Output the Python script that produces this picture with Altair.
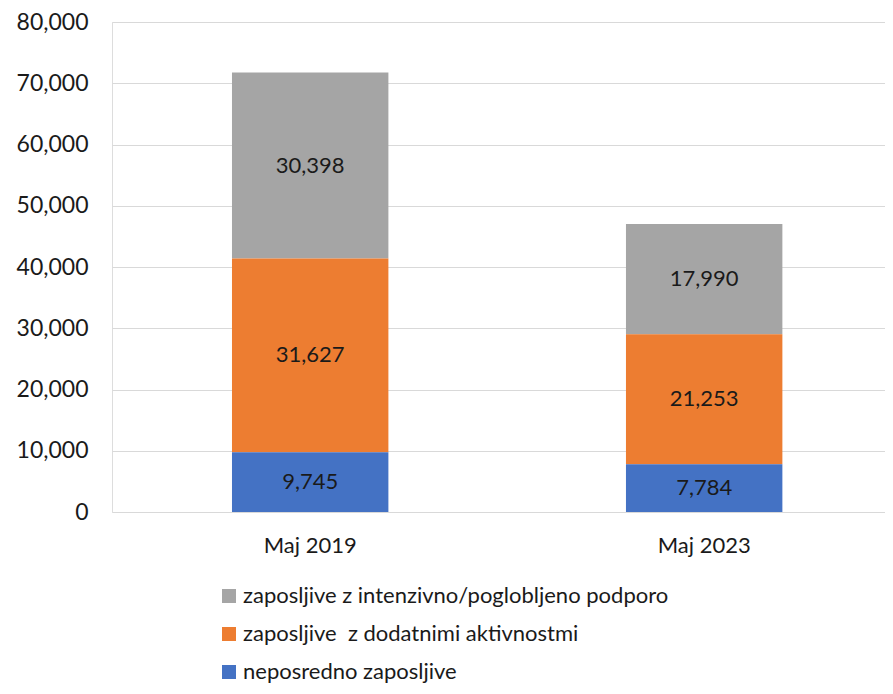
import altair as alt
import pandas as pd

periods = ["Maj 2019", "Maj 2023"]
categories = [
    "zaposljive z intenzivno/poglobljeno podporo",
    "zaposljive\u00a0 z dodatnimi aktivnostmi",
    "neposredno zaposljive",
]
colors = ["#a5a5a5", "#ed7d31", "#4472c4"]
stack_order = [3, 2, 1]
values_intenzivno = [30398, 17990]
values_dodatnimi = [31627, 21253]
values_neposredno = [9745, 7784]
y_ticks = [0, 10000, 20000, 30000, 40000, 50000, 60000, 70000, 80000]

rows = []
for series, vals, order in zip(categories, [values_intenzivno, values_dodatnimi, values_neposredno], stack_order):
    for p, v in zip(periods, vals):
        rows.append({"period": p, "category": series, "value": v, "order": order})
df = pd.DataFrame(rows)

FONT = "Lato"
TXT = "#1a1a1a"

base = alt.Chart(df).transform_stack(
    stack="value",
    groupby=["period"],
    sort=[alt.SortField("order", "ascending")],
    as_=["y0", "y1"],
).transform_calculate(mid="(datum.y0 + datum.y1) / 2")

x_scale = alt.Scale(paddingInner=0.603, paddingOuter=0.2825, align=0.539)
y_scale = alt.Scale(domain=[0, 80000], nice=False)

x_axis = alt.Axis(labelAngle=0, labelPadding=23, ticks=False, tickSize=0, grid=False,
                  domain=False, gridOpacity=0)
y_axis = alt.Axis(values=y_ticks, format=",d", domain=False, ticks=False,
                  tickSize=0, labelPadding=24, gridColor="#d9d9d9", gridWidth=1, labelFontSize=23)

bars = base.mark_bar().encode(
    x=alt.X("period:N", title=None, sort=periods, scale=x_scale, axis=x_axis),
    y=alt.Y("y0:Q", title=None, scale=y_scale, axis=y_axis),
    y2="y1:Q",
    color=alt.Color(
        "category:N",
        scale=alt.Scale(domain=categories, range=colors),
        legend=alt.Legend(
            title=None, orient="none", legendX=106, legendY=563, direction="vertical",
            symbolType="square", symbolSize=196, symbolStrokeWidth=0, symbolOpacity=1,
            labelFontSize=22, labelOffset=3, rowPadding=16, padding=0, labelLimit=0,
        ),
    ),
)

labels = base.mark_text(fontSize=22, font=FONT, color=TXT).encode(
    x=alt.X("period:N", title=None, sort=periods, scale=x_scale, axis=x_axis),
    y=alt.Y("mid:Q", title=None, scale=y_scale, axis=y_axis),
    text=alt.Text("value:Q", format=",d"),
)

chart = alt.layer(bars, labels).properties(
    width=773,
    height=490,
    padding={"left": 104, "top": 14, "right": 0, "bottom": 174},
    autosize=alt.AutoSizeParams(type="none"),
).configure_view(stroke=None, strokeWidth=0).configure(font=FONT).configure_axis(
    labelFont=FONT, labelFontSize=22, labelColor=TXT, domain=False
).configure_axisY(domain=False, ticks=False).configure_axisX(
    grid=False, ticks=False, domain=False
).configure_legend(labelFont=FONT, labelColor=TXT)

chart.save("out.html", embed_options={"renderer": "svg", "actions": False})
